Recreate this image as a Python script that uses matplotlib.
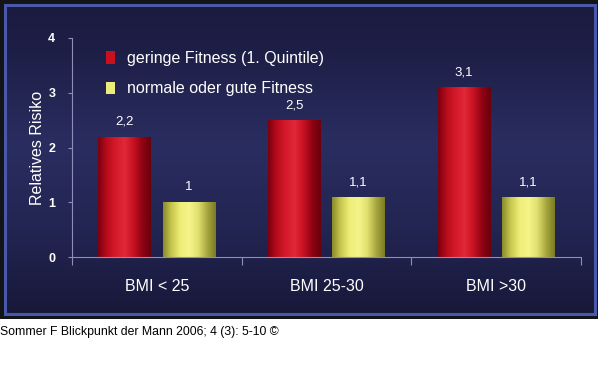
import numpy as np
import matplotlib
matplotlib.use("Agg")
import matplotlib.pyplot as plt
from matplotlib.colors import LinearSegmentedColormap
from matplotlib.patches import Rectangle, Patch

categories = ["BMI < 25", "BMI 25-30", "BMI >30"]
series_names = ["geringe Fitness (1. Quintile)", "normale oder gute Fitness"]
low_fitness = [2.2, 2.5, 3.1]
good_fitness = [1.0, 1.1, 1.1]
value_labels_low = ["2,2", "2,5", "3,1"]
value_labels_good = ["1", "1,1", "1,1"]
y_ticks = [0, 1, 2, 3, 4]
y_label = "Relatives Risiko"
caption = "Sommer F Blickpunkt der Mann 2006; 4 (3): 5-10 ©"

plt.rcParams['font.family'] = ['Liberation Sans', 'DejaVu Sans']

W, H = 600, 381
fig = plt.figure(figsize=(6, 3.81), dpi=100)
fig.patch.set_facecolor('white')

# background panel
bg = fig.add_axes([0, 0, 1, 1], zorder=-10)
bg.set_xlim(0, W)
bg.set_ylim(H, 0)
bg.axis('off')
bg.add_patch(Rectangle((0, 0), 598, 319, facecolor='#121418', edgecolor='none', zorder=1))
grad = LinearSegmentedColormap.from_list('bgv', [(0, '#1b1b40'), (0.15, '#1e1f47'),
                                                 (0.45, '#2a2d60'), (0.75, '#222450'),
                                                 (1.0, '#18183a')])
gy = np.linspace(0, 1, 256).reshape(-1, 1)
bg.imshow(gy, cmap=grad, aspect='auto', extent=(5, 595, 314, 5), interpolation='bicubic', zorder=2)
bg.add_patch(Rectangle((5, 5), 590, 309, facecolor='none', edgecolor='#4a58aa', linewidth=2.2, zorder=3))
bg.set_xlim(0, W)
bg.set_ylim(H, 0)
fig.text(0.0, (H - 332) / H, caption, fontsize=8.8, color='black', ha='left', va='center')

# main axes
ax_left, ax_right = 72 / W, 581 / W
ax_bottom, ax_top = (H - 257) / H, (H - 38) / H
ax = fig.add_axes([ax_left, ax_bottom, ax_right - ax_left, ax_top - ax_bottom])
ax.patch.set_alpha(0)

x = np.arange(len(categories))
width = 0.31
off = 0.19

red_cmap = LinearSegmentedColormap.from_list('red', ['#7a0010', '#b80c1c', '#d41a2a', '#e02838', '#c81222', '#900414', '#6a000c'])
yel_cmap = LinearSegmentedColormap.from_list('yel', ['#8a8a2a', '#c8c850', '#eeee78', '#f4f48a', '#e0e070', '#a8a840', '#7a7a22'])
hg = np.linspace(0, 1, 256).reshape(1, -1)

def cyl_bars(xpos, vals, cmap):
    bars = ax.bar(xpos, vals, width=width, color='none', edgecolor='none', zorder=3)
    for b in bars:
        x0, y0 = b.get_x(), b.get_y()
        im = ax.imshow(hg, cmap=cmap, aspect='auto', interpolation='bicubic',
                       extent=(x0, x0 + b.get_width(), y0, y0 + b.get_height()), zorder=2)
        im.set_clip_path(b)
    return bars

b1 = cyl_bars(x - off, low_fitness, red_cmap)
b2 = cyl_bars(x + off, good_fitness, yel_cmap)
ax.set_xlim(-0.5, 2.5)
ax.set_ylim(0, 4)
ax.set_aspect('auto')

for b, lab in zip(b1, value_labels_low):
    ax.text(b.get_x() + b.get_width() / 2, b.get_height() + 0.16, lab, ha='center', va='bottom',
            color='white', fontsize=9.5)
for b, lab in zip(b2, value_labels_good):
    ax.text(b.get_x() + b.get_width() / 2, b.get_height() + 0.16, lab, ha='center', va='bottom',
            color='white', fontsize=9.5)

for s in ['top', 'right']:
    ax.spines[s].set_visible(False)
for s in ['left', 'bottom']:
    ax.spines[s].set_color('#8e8eb8')
    ax.spines[s].set_linewidth(0.8)

ax.set_yticks(y_ticks)
ax.set_yticklabels([str(t) for t in y_ticks], fontweight='bold', color='white', fontsize=9)
ax.tick_params(axis='y', colors='#8e8eb8', labelcolor='white', length=3, width=0.8, pad=9)
ax.set_xticks(x)
ax.set_xticklabels(categories, color='white', fontsize=11.5)
ax.set_xticks([-0.5, 0.5, 1.5, 2.5], minor=True)
ax.tick_params(axis='x', which='major', length=0, pad=16)
ax.tick_params(axis='x', which='minor', length=6, width=0.8, colors='#8e8eb8')
ax.set_ylabel(y_label, color='white', fontsize=11.5, labelpad=2)

handles = [Patch(facecolor='#c8101e', edgecolor='none'), Patch(facecolor='#ecec7c', edgecolor='none')]
leg = ax.legend(handles, series_names, loc='upper left', bbox_to_anchor=(0.038, 1.006),
                frameon=False, fontsize=11.5, labelcolor='white', handlelength=0.6,
                handleheight=0.8, handletextpad=0.75, labelspacing=0.96)

fig.savefig('out.png', dpi=100, facecolor=fig.get_facecolor())
